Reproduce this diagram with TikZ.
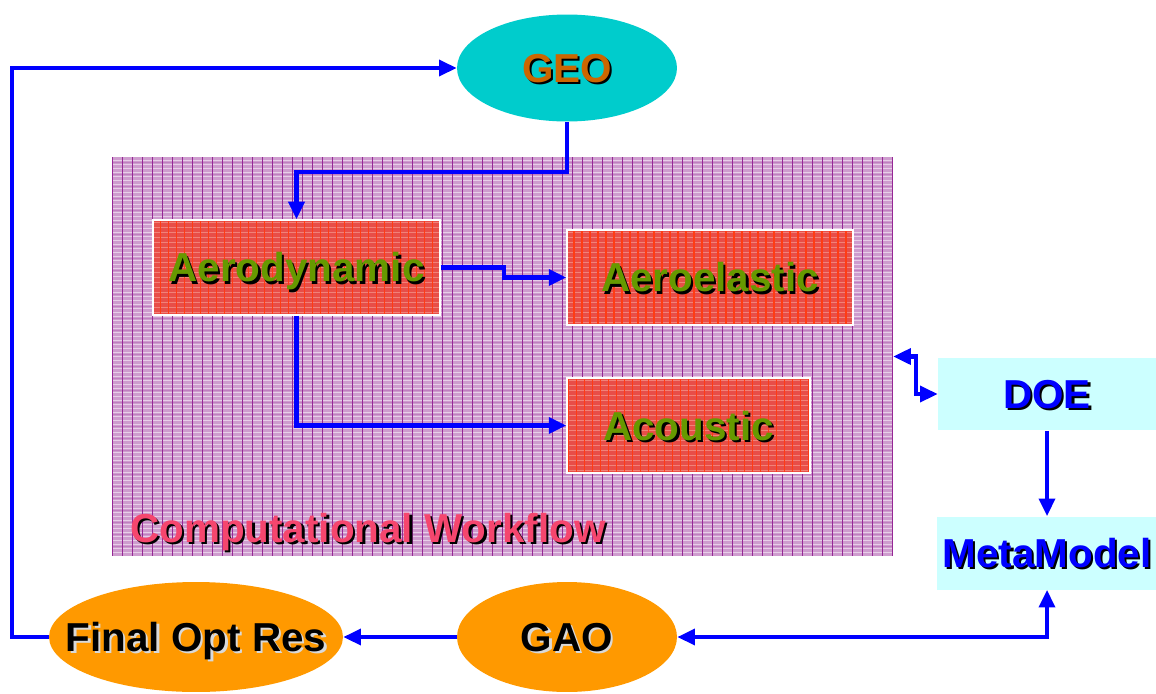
\documentclass[tikz,border=0pt]{standalone}
\usepackage{fontspec}
\setmainfont{Liberation Sans}
\usetikzlibrary{arrows.meta, shapes.geometric}

\definecolor{geocyan}{RGB}{0,204,204}
\definecolor{geotext}{RGB}{204,102,0}
\definecolor{optorange}{RGB}{255,153,0}
\definecolor{doecyan}{RGB}{204,255,255}
\definecolor{wfbase}{RGB}{206,156,206}
\definecolor{wflight}{RGB}{232,206,232}
\definecolor{wfdark}{RGB}{150,40,150}
\definecolor{boxbase}{RGB}{232,78,72}
\definecolor{boxlight}{RGB}{242,130,120}
\definecolor{boxdark}{RGB}{255,60,20}
\definecolor{aerogreen}{RGB}{102,153,0}
\definecolor{wfpink}{RGB}{245,70,110}

% text with a small drop shadow
\newcommand{\shadowed}[3]{\rlap{\hspace{1.3pt}\raisebox{-1.3pt}{\textcolor{#3}{#2}}}\textcolor{#1}{#2}}

\begin{document}
\begin{tikzpicture}[x=0.02cm, y=-0.02cm, >={Triangle[length=10pt, width=9pt]},
    bigfont/.style={font=\fontsize{23}{26}\selectfont\bfseries, text height=16.5pt, text depth=0pt},
    flow/.style={draw=blue, line width=2.3pt},
    oval/.style={ellipse, draw=none, inner sep=0pt, minimum width=4.4cm, minimum height=2.2cm},
    lightbox/.style={rectangle, fill=doecyan, draw=none, minimum width=4.36cm, minimum height=1.46cm, bigfont},
    redbox/.style={rectangle, draw=white, line width=0.8pt, fill=boxbase, minimum height=1.9cm, bigfont,
      path picture={
        \foreach \k in {-15,...,15}
          \draw[boxlight, line width=0.5pt] ([yshift=\k*0.1cm]path picture bounding box.west) -- ([yshift=\k*0.1cm]path picture bounding box.east);
        \foreach \k in {-25,...,25}
          \draw[boxdark, line width=0.7pt] ([xshift=\k*0.16cm]path picture bounding box.south) -- ([xshift=\k*0.16cm]path picture bounding box.north);
      }},
    wfbox/.style={rectangle, draw=none, fill=wfbase, minimum width=15.62cm, minimum height=7.98cm,
      path picture={
        \foreach \k in {-50,...,50}
          \draw[wflight, line width=0.9pt] ([yshift=\k*0.08cm]path picture bounding box.west) -- ([yshift=\k*0.08cm]path picture bounding box.east);
        \foreach \k in {-17,...,17}
          \draw[wfdark!60, line width=0.5pt] ([yshift=\k*0.24cm+0.04cm]path picture bounding box.west) -- ([yshift=\k*0.24cm+0.04cm]path picture bounding box.east);
        \foreach \k in {-40,...,40}
          \draw[wfdark, line width=0.6pt] ([xshift=\k*0.2cm]path picture bounding box.south) -- ([xshift=\k*0.2cm]path picture bounding box.north);
      }}]

  \useasboundingbox (0,0) rectangle (1156,693);

  % Computational workflow area
  \node[wfbox] (wf) at (502.5,356.5) {};
  \node[bigfont, anchor=west, inner sep=0pt] (wflabel) at (130,528) {\shadowed{wfpink}{Computational Workflow}{black}};

  % Solvers
  \node[redbox, minimum width=5.74cm] (aero) at (296.5,267.5) {\shadowed{aerogreen}{Aerodynamic}{black}};
  \node[redbox, minimum width=5.72cm] (aeroel) at (710,277.5) {\shadowed{aerogreen}{Aeroelastic}{black}};
  \node[redbox, minimum width=4.86cm] (acou) at (688.5,425.5) {\shadowed{aerogreen}{Acoustic}{black}};

  % Geometry and optimiser
  \node[oval, fill=geocyan, minimum height=2.14cm, label={[bigfont]center:\shadowed{geotext}{GEO}{black}}] (geo) at (567,68) {};
  \node[oval, fill=optorange, label={[bigfont]center:\shadowed{black}{GAO}{white!70!gray}}] (gao) at (567,637) {};
  \node[oval, fill=optorange, minimum width=5.88cm, label={[bigfont]center:\shadowed{black}{Final Opt Res}{white!70!gray}}] (final) at (196,637) {};

  % DOE and metamodel
  \node[lightbox] (doe) at (1047,394) {\shadowed{blue}{DOE}{black}};
  \node[lightbox] (meta) at (1047,553) {\shadowed{blue}{MetaModel}{black}};

  % Connectors
  \draw[flow, ->] (geo.south) -- ++(0,50) -| (aero.north);
  \draw[flow, ->] (aero.east) -- ++(63,0) |- (aeroel.west);
  \draw[flow, ->] (aero.south) |- (acou.west);
  \draw[flow, <->] (wf.east) -- ++(23,0) |- (doe.west);
  \draw[flow, ->] (doe.south) -- (meta.north);
  \draw[flow, <->] (gao.east) -| (meta.south);
  \draw[flow, ->] (gao.west) -- (final.east);
  \draw[flow, ->] (final.west) -- ++(-37,0) |- (geo.west);

\end{tikzpicture}
\end{document}
